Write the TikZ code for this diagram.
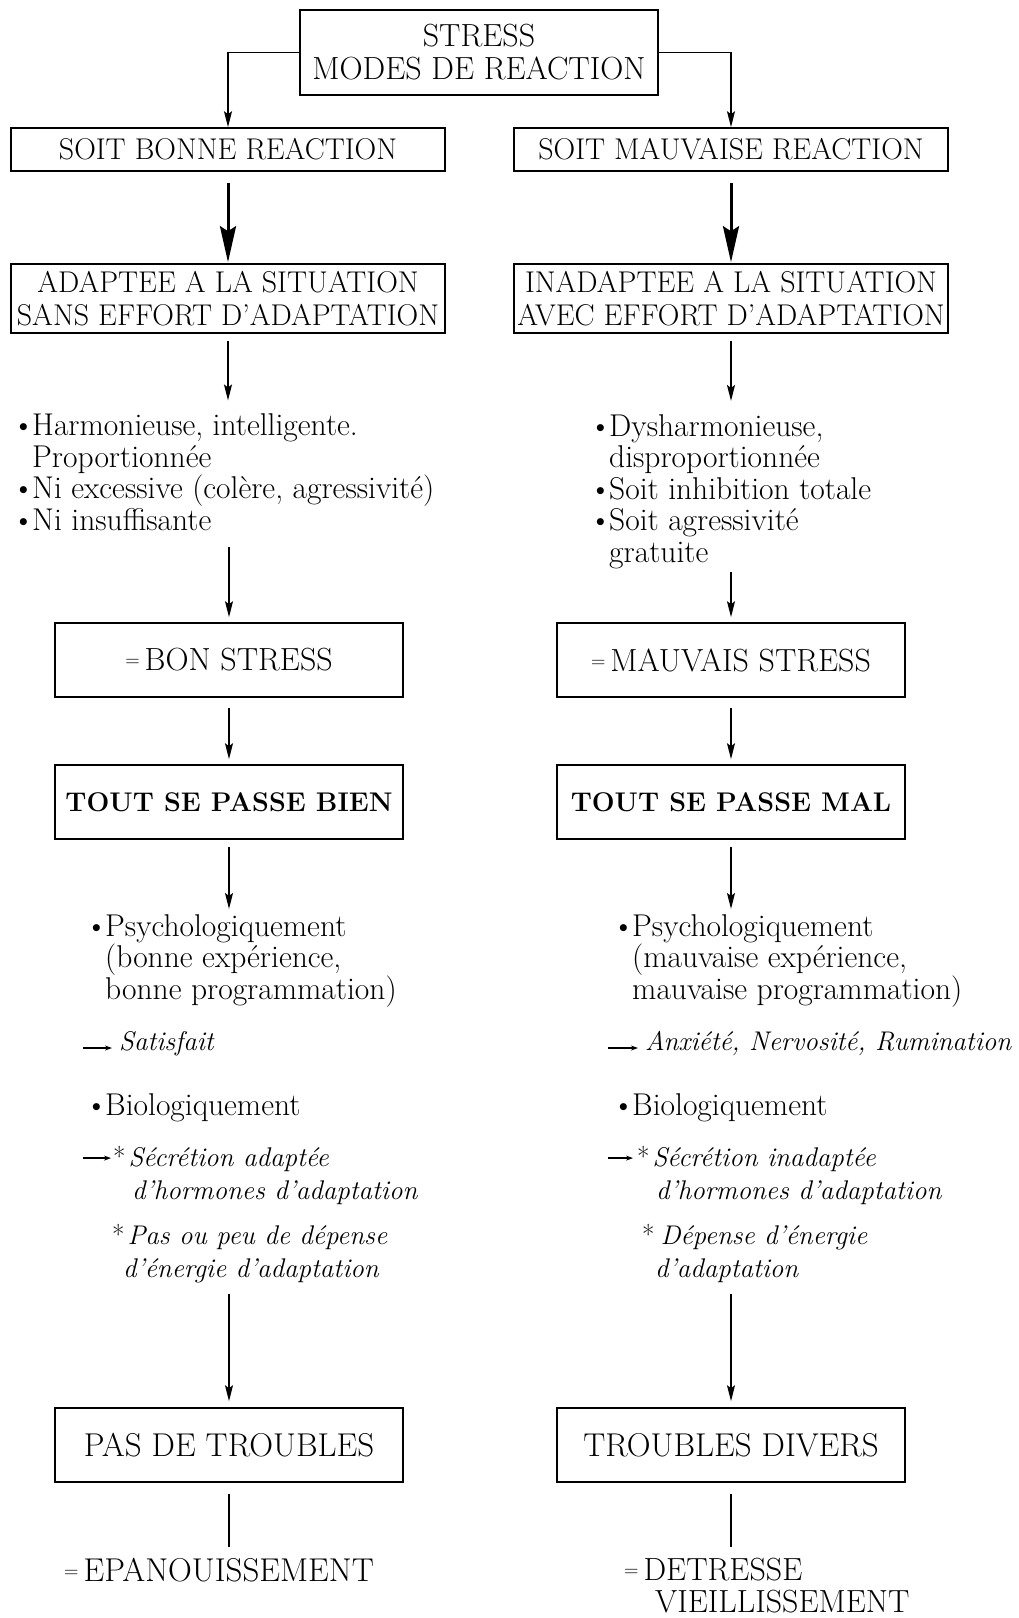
\documentclass[tikz,border=0pt]{standalone}
\usetikzlibrary{arrows.meta}
\newcommand{\puce}{\makebox[20pt][l]{\textbullet}}
\newcommand{\egal}{\raisebox{4pt}{\fontsize{20}{20}\selectfont=}\hspace{5pt}}
\tikzset{
  box/.style={draw, line width=1.6pt, inner sep=0pt, align=center, font=\fontsize{30}{33}\selectfont},
  txt/.style={anchor=base west, inner sep=0pt, align=left, font=\fontsize{31.5}{31.5}\selectfont},
  itxt/.style={txt, font=\fontsize{27}{32.5}\selectfont\itshape},
  fleche/.style={line width=1.4pt, -{Stealth[length=16pt,width=8pt,inset=3pt]}},
  grosse/.style={line width=3pt, -{Stealth[length=36pt,width=16pt,inset=5pt]}},
  trait/.style={line width=1.4pt},
  marque/.style={line width=1.2pt, -{Stealth[length=7pt,width=5pt]}}
}
\begin{document}
\begin{tikzpicture}[x=1pt,y=-1pt]
    \useasboundingbox (0,0) rectangle (1018,1618);
    % Top box
    \node[box, minimum width=358pt, minimum height=85pt, font=\fontsize{32}{33}\selectfont] (stress) at (479,52.5) {STRESS\\MODES DE REACTION};

    % Left column
    \begin{scope}[shift={(0,0)}]
        \node[box, minimum width=434pt, minimum height=43pt] (bonne) at (228,149.5) {SOIT BONNE REACTION};
        \node[box, minimum width=434pt, minimum height=69pt] (adaptee) at (228,298.5) {ADAPTEE A LA SITUATION\\SANS EFFORT D'ADAPTATION};
        \node[txt] (harmo) at (12,530) {\puce Harmonieuse, intelligente.\\\hspace*{20pt}Proportionnée\\\puce Ni excessive (colère, agressivité)\\\puce Ni insuffisante};
        \node[box, minimum width=348pt, minimum height=74pt, font=\fontsize{32}{33}\selectfont] (bon) at (229,660) {\egal BON STRESS};
        \node[box, minimum width=348pt, minimum height=74pt, font=\fontsize{27}{30}\selectfont\bfseries] (bien) at (229,802) {TOUT SE PASSE BIEN};
        \node[txt] (psy) at (85,999) {\puce Psychologiquement\\\hspace*{20pt}(bonne expérience,\\\hspace*{20pt}bonne programmation)};
        \node[itxt] (sat) at (119,1050) {Satisfait};
        \node[txt] (bio) at (85,1115) {\puce Biologiquement};
        \node[itxt] (secr) at (113,1199) {{\upshape*}\hspace{3pt}Sécrétion adaptée\\\hspace*{19pt}d'hormones d'adaptation};
        \node[itxt] (depense) at (112,1277) {{\upshape*}\hspace{3pt}Pas ou peu de dépense\\\hspace*{11pt}d'énergie d'adaptation};
        \node[box, minimum width=348pt, minimum height=74pt, font=\fontsize{33}{34}\selectfont] (pas) at (229,1445) {PAS DE TROUBLES};
        \node[txt, font=\fontsize{33}{32}\selectfont] (epan) at (64,1581) {\egal EPANOUISSEMENT};

        \draw[grosse, shorten <=11pt, shorten >=1pt] (bonne) -- (adaptee);
        \draw[fleche, shorten <=7pt, shorten >=13pt] (adaptee.south) -- (adaptee.south |- harmo.north);
        \draw[fleche, shorten <=17pt, shorten >=5pt] (harmo.base -| bon.north) -- (bon.north);
        \draw[fleche, shorten <=10pt, shorten >=5pt] (bon) -- (bien);
        \draw[fleche, shorten <=7pt, shorten >=5pt] (bien.south) -- (bien.south |- psy.north);
        \draw[marque] ([xshift=-36pt,yshift=2pt]sat.base west) -- ([xshift=-7pt,yshift=2pt]sat.base west);
        \draw[marque] ([xshift=-30pt,yshift=-12pt]secr.north west) -- ([xshift=-2pt,yshift=-12pt]secr.north west);
        \draw[fleche, shorten <=17pt, shorten >=6pt] (depense.base -| pas.north) -- (pas.north);
        \draw[trait, shorten <=11pt, shorten >=10pt] (pas.south) -- (pas.south |- epan.north);
    \end{scope}

    % Right column
    \begin{scope}[shift={(503,0)}]
        \node[box, minimum width=434pt, minimum height=43pt] (mauvaise) at (228,149.5) {SOIT MAUVAISE REACTION};
        \node[box, minimum width=434pt, minimum height=69pt] (inadaptee) at (228,298.5) {INADAPTEE A LA SITUATION\\AVEC EFFORT D'ADAPTATION};
        \node[txt] (dysh) at (86,562) {\puce Dysharmonieuse,\\\hspace*{20pt}disproportionnée\\\puce Soit inhibition totale\\\puce Soit agressivité\\\hspace*{20pt}gratuite};
        \node[box, minimum width=348pt, minimum height=74pt, font=\fontsize{32}{33}\selectfont] (mauv) at (228,660) {\egal MAUVAIS STRESS};
        \node[box, minimum width=348pt, minimum height=74pt, font=\fontsize{27}{30}\selectfont\bfseries] (mal) at (228,802) {TOUT SE PASSE MAL};
        \node[txt] (psyR) at (109,999) {\puce Psychologiquement\\\hspace*{20pt}(mauvaise expérience,\\\hspace*{20pt}mauvaise programmation)};
        \node[itxt] (anx) at (142,1050) {Anxiété, Nervosité, Rumination};
        \node[txt] (bioR) at (109,1115) {\puce Biologiquement};
        \node[itxt] (secrR) at (134,1199) {{\upshape*}\hspace{3pt}Sécrétion inadaptée\\\hspace*{19pt}d'hormones d'adaptation};
        \node[itxt] (depR) at (139,1277) {{\upshape*}\hspace{6pt}Dépense d'énergie\\\hspace*{13pt}d'adaptation};
        \node[box, minimum width=348pt, minimum height=74pt, font=\fontsize{33}{34}\selectfont] (divers) at (228,1445) {TROUBLES DIVERS};
        \node[txt, font=\fontsize{32}{32}\selectfont] (detr) at (121,1612) {\egal DETRESSE\\\hspace*{31pt}VIEILLISSEMENT};

        \draw[grosse, shorten <=11pt, shorten >=1pt] (mauvaise) -- (inadaptee);
        \draw[fleche, shorten <=7pt, shorten >=13pt] (inadaptee.south) -- (inadaptee.south |- dysh.north);
        \draw[fleche, shorten <=10pt, shorten >=5pt] (dysh.base -| mauv.north) -- (mauv.north);
        \draw[fleche, shorten <=10pt, shorten >=5pt] (mauv) -- (mal);
        \draw[fleche, shorten <=7pt, shorten >=5pt] (mal.south) -- (mal.south |- psyR.north);
        \draw[marque] ([xshift=-37pt,yshift=2pt]anx.base west) -- ([xshift=-7pt,yshift=2pt]anx.base west);
        \draw[marque] ([xshift=-29pt,yshift=-12pt]secrR.north west) -- ([xshift=-4pt,yshift=-12pt]secrR.north west);
        \draw[fleche, shorten <=17pt, shorten >=6pt] (depR.base -| divers.north) -- (divers.north);
        \draw[trait, shorten <=11pt, shorten >=10pt] (divers.south) -- (divers.south |- detr.north);
    \end{scope}

    % Top connectors
    \draw[fleche] (stress.west) -| (bonne.north);
    \draw[fleche] (stress.east) -| (mauvaise.north);
\end{tikzpicture}
\end{document}
